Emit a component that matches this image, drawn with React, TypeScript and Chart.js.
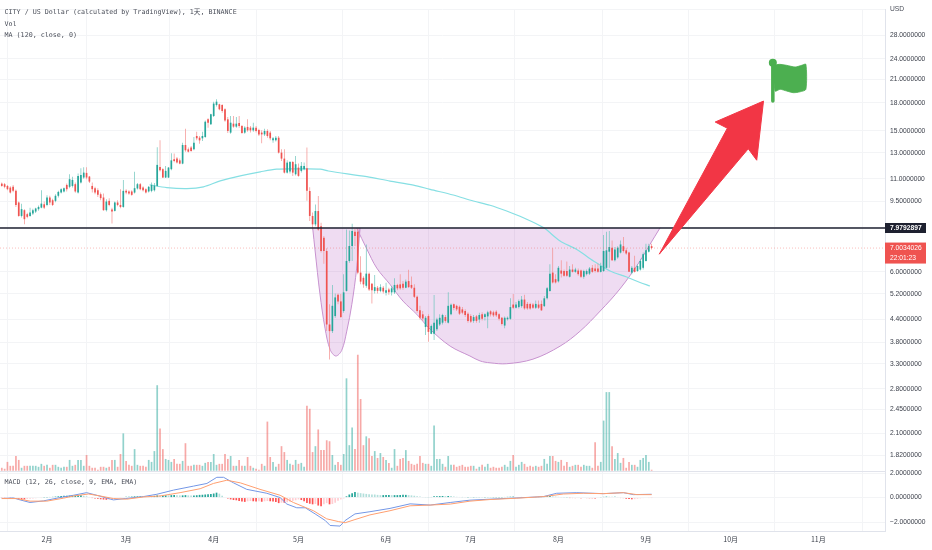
import React, { useEffect, useRef } from "react";
import { Chart, registerables } from "chart.js";

Chart.register(...registerables);

const monthTicks = [16, 44, 75, 105, 136, 166, 197, 228, 258, 289];
const monthLabels = ["2月", "3月", "4月", "5月", "6月", "7月", "8月", "9月", "10月", "11月"];
const priceTicks = [33, 28, 24, 21, 18, 15, 13, 11, 9.5, 8, 6, 5.2, 4.4, 3.8, 3.3, 2.8, 2.45, 2.1, 1.82];
const hiddenPriceLabels = [33, 8];
const macdTicks = [2, 0, -2];

const opens = [
  10.65,10.61,10.49,10.38,10.43,10.16,9.42,8.63,8.96,8.73,
  8.63,8.77,8.88,9.02,9.11,9.31,9.27,9.73,9.56,9.52,
  9.84,10.05,10.12,10.56,10.43,10.49,10.61,10.05,10.72,11.08,
  11.42,11.15,10.49,10.34,10.2,9.94,9.73,8.96,9.52,9.0,
  8.92,9.42,9.27,9.15,10.16,10.12,10.12,10.05,10.32,10.61,
  10.38,10.27,10.12,10.16,10.2,10.49,11.87,11.7,11.08,11.08,
  11.7,12.47,12.55,12.39,12.13,13.69,13.31,13.46,13.31,14.52,
  14.36,14.3,14.42,16.18,15.66,16.53,17.76,17.84,17.76,17.27,
  16.18,14.84,15.73,15.43,15.8,15.5,14.84,15.4,15.33,15.06,
  15.33,15.1,14.84,14.67,15.0,14.84,14.11,14.11,14.36,13.03,
  12.53,11.44,11.52,12.26,11.32,11.82,11.57,11.7,11.77,10.15,
  8.63,8.17,8.91,8.07,7.49,6.87,4.26,4.08,4.5,5.17,
  4.95,4.65,5.3,6.44,7.1,7.79,7.79,5.97,5.77,5.48,
  5.93,5.55,5.3,5.41,5.3,5.41,5.24,5.35,5.25,5.25,
  5.51,5.53,5.55,5.41,5.65,5.51,5.41,5.1,4.67,4.55,
  4.19,4.5,4.01,4.01,4.13,4.26,4.31,4.47,4.31,4.55,
  4.86,4.81,4.78,4.7,4.65,4.57,4.5,4.36,4.49,4.4,
  4.55,4.47,4.49,4.64,4.61,4.63,4.55,4.45,4.23,4.41,
  4.42,4.85,4.75,4.77,4.8,5.01,4.87,4.87,4.85,4.75,
  4.85,4.87,4.8,5.05,5.3,5.97,5.72,5.64,6.05,6.03,
  6.03,5.81,6.09,6.0,6.05,6.05,5.81,5.91,5.93,6.16,
  6.13,6.13,6.0,6.03,6.16,6.84,7.02,6.47,6.59,6.8,
  7.09,6.9,6.8,5.97,6.16,6.03,6.09,6.16,6.44,6.84,
  7.09,
];
const highs = [
  10.72,10.7,10.56,10.47,10.56,10.25,9.48,9.35,9.02,8.81,
  9.11,9.04,9.11,9.23,10.2,9.48,9.88,9.84,9.65,9.94,
  10.16,10.34,10.38,10.65,11.32,11.13,10.72,11.37,11.77,11.85,
  11.85,11.2,10.72,10.43,10.34,10.05,9.99,9.62,9.69,9.11,
  9.48,9.56,10.27,10.91,10.27,10.2,10.2,11.5,10.7,10.7,
  10.47,10.34,10.49,10.72,10.7,13.5,14.11,11.77,11.95,11.87,
  12.97,12.95,12.66,12.55,13.9,15.23,13.46,13.6,14.42,14.93,
  14.52,14.93,16.07,16.29,16.78,18.15,18.43,17.92,17.84,17.38,
  16.43,16.53,16.53,16.43,16.53,15.6,15.46,16.18,15.5,15.83,
  15.5,15.23,15.06,15.23,15.16,15.0,14.42,14.52,14.52,13.31,
  13.31,12.39,12.34,12.34,12.75,12.13,12.26,12.21,13.46,10.4,
  8.82,9.3,9.82,8.25,7.57,7.0,4.86,5.51,5.21,5.21,
  5.19,5.91,7.9,7.85,8.2,7.95,7.95,6.64,5.83,7.17,
  5.97,5.58,5.88,5.47,5.53,5.47,5.59,5.41,5.47,5.75,
  5.55,5.91,5.65,5.71,6.08,5.82,5.53,5.14,4.81,4.65,
  4.5,4.55,4.26,5.16,4.45,4.55,4.57,4.53,5.25,4.88,
  4.88,4.84,4.82,4.77,4.7,4.61,4.55,4.53,4.53,4.6,
  4.61,4.58,4.66,4.67,4.66,4.67,4.58,4.47,4.49,4.49,
  5.05,5.19,4.93,5.01,5.13,5.17,4.93,4.91,4.9,4.98,
  4.98,4.98,5.13,5.44,6.3,6.99,5.91,6.23,6.47,6.09,
  6.42,6.23,6.3,6.16,6.13,6.09,6.08,6.09,6.19,6.27,
  6.3,6.33,6.37,7.62,7.79,7.82,7.36,7.05,7.09,7.36,
  7.52,7.02,6.84,6.23,6.66,6.3,6.53,6.8,7.2,7.2,
  7.2,
];
const lows = [
  10.43,10.34,10.2,9.99,10.07,9.15,8.59,8.54,8.18,8.5,
  8.58,8.69,8.8,8.92,9.07,9.03,9.19,9.27,9.21,9.44,
  9.73,9.99,10.05,10.12,10.34,10.38,10.03,9.99,10.65,10.99,
  10.96,10.7,10.05,9.94,9.77,9.56,8.92,8.88,9.19,8.21,
  8.88,9.19,9.07,9.11,9.94,9.9,9.84,9.99,10.25,10.2,
  10.12,9.99,10.05,10.07,10.12,10.43,11.52,11.04,11.04,11.04,
  11.62,12.24,12.13,12.08,12.08,13.11,13.03,13.11,13.23,14.11,
  13.81,14.05,14.36,15.33,15.6,16.43,17.59,17.16,16.9,15.93,
  14.8,14.74,15.33,15.33,15.33,14.74,14.74,14.93,14.84,14.93,
  14.84,14.52,13.84,14.52,14.36,14.11,13.9,14.0,12.95,12.34,
  11.37,11.37,11.37,11.2,11.23,11.13,11.44,11.62,9.52,8.35,
  7.9,8.07,7.84,6.8,6.32,4.08,3.39,4.03,4.45,4.86,
  4.45,4.6,5.28,6.36,6.44,7.1,5.91,5.53,5.41,5.41,
  5.3,4.88,5.21,5.21,5.25,5.21,5.14,5.17,5.14,5.19,
  5.32,5.34,5.34,5.39,5.41,5.37,5.06,4.6,4.4,4.36,
  3.98,3.81,4.0,3.85,4.08,4.22,4.26,4.31,4.29,4.52,
  4.67,4.65,4.53,4.55,4.47,4.31,4.3,4.31,4.31,4.31,
  4.37,4.37,4.16,4.49,4.47,4.47,4.37,4.23,4.16,4.37,
  4.39,4.7,4.73,4.73,4.75,4.69,4.69,4.69,4.71,4.71,
  4.71,4.66,4.77,5.01,5.27,5.56,5.56,5.6,5.78,5.81,
  5.81,5.78,5.97,5.96,5.85,5.76,5.74,5.86,5.88,5.96,
  5.97,5.96,5.97,6.0,6.13,6.16,6.44,6.42,6.53,6.76,
  6.8,6.71,6.0,5.91,5.97,6.0,6.05,6.09,6.42,6.8,
  6.94,
];
const closes = [
  10.49,10.43,10.27,10.05,10.16,9.27,8.63,9.02,8.45,8.58,
  8.82,8.96,9.06,9.15,9.35,9.11,9.73,9.42,9.27,9.84,
  10.09,10.27,10.34,10.27,10.96,10.91,10.12,11.2,11.27,11.44,
  11.08,10.79,10.27,10.05,9.9,9.69,8.96,9.48,9.27,8.88,
  9.42,9.27,9.15,10.16,10.05,9.99,9.9,10.34,10.61,10.27,
  10.2,10.05,10.43,10.56,10.52,12.03,11.62,11.08,11.57,11.82,
  12.39,12.34,12.21,12.13,13.69,13.23,13.11,13.17,13.9,14.3,
  14.11,14.52,15.93,15.83,16.71,17.92,18.15,17.27,17.08,16.07,
  15.0,15.83,15.43,15.73,15.5,14.8,15.33,15.06,15.06,15.33,
  15.0,14.67,14.67,15.0,14.52,14.3,14.3,14.36,13.03,12.53,
  11.44,12.21,12.26,11.44,12.08,11.2,11.95,11.95,10.16,8.63,
  8.17,8.91,7.9,6.87,6.87,4.26,4.08,4.81,5.08,4.95,
  4.47,5.25,6.44,7.1,7.82,7.57,5.97,5.63,5.53,5.93,
  5.35,5.32,5.43,5.3,5.43,5.28,5.32,5.25,5.39,5.51,
  5.39,5.39,5.41,5.63,5.43,5.41,5.1,4.65,4.45,4.43,
  4.45,4.06,4.22,4.31,4.4,4.45,4.53,4.36,4.81,4.84,
  4.74,4.7,4.57,4.6,4.53,4.36,4.34,4.47,4.36,4.53,
  4.42,4.55,4.61,4.55,4.52,4.52,4.42,4.27,4.45,4.45,
  4.77,4.75,4.85,4.96,5.01,4.73,4.73,4.73,4.75,4.87,
  4.75,4.67,5.05,5.39,5.93,5.6,5.6,6.16,5.93,5.85,
  5.85,6.09,6.0,6.09,5.91,5.81,6.03,6.03,6.13,6.0,
  6.03,6.0,6.23,6.87,6.9,7.05,6.47,6.94,7.02,7.17,
  6.87,6.76,6.0,6.16,6.0,6.23,6.44,6.73,6.9,7.09,
  7.0034,
];
const volumes = [
  3,2,9,5,5,15,11,3,5,5,
  5,5,5,4,7,5,6,3,6,6,
  4,3,4,4,11,5,6,11,11,5,
  16,5,3,3,1,4,4,3,4,11,
  11,4,17,38,10,6,5,22,6,5,
  5,4,11,9,20,87,43,22,12,11,
  9,12,7,7,10,28,5,5,6,6,
  6,5,8,9,9,17,6,7,7,17,
  12,15,5,5,11,5,5,14,5,3,
  2,1,7,5,50,14,9,4,7,25,
  19,11,7,6,11,7,8,4,66,63,
  19,25,42,21,21,31,30,16,6,9,
  6,17,94,26,44,22,118,73,26,35,
  33,15,20,13,18,14,11,8,3,22,
  5,12,13,21,10,7,6,7,15,8,
  7,7,5,46,12,12,7,4,15,6,
  6,4,5,6,4,4,5,5,2,4,
  6,4,7,3,4,3,3,4,6,4,
  10,16,4,6,9,7,4,5,4,5,
  4,5,12,7,15,15,10,9,11,5,
  9,4,5,6,6,4,6,5,5,3,
  29,5,9,51,80,80,25,12,18,8,
  13,3,9,6,6,4,11,13,16,9,
  1,
];
const macdHist = [
  -0.02,-0.02,-0.01,-0.02,-0.03,-0.05,-0.1,-0.14,-0.15,-0.12,
  -0.1,-0.08,-0.06,-0.04,-0.02,0.02,0.03,0.05,0.06,0.08,
  0.1,0.12,0.14,0.15,0.16,0.17,0.18,0.18,0.18,0.14,
  0.1,0.05,-0.02,-0.07,-0.1,-0.14,-0.16,-0.18,-0.16,-0.14,
  -0.1,-0.05,-0.02,0.04,0.06,0.07,0.08,0.1,0.1,0.1,
  0.09,0.08,0.07,0.1,0.14,0.18,0.16,0.18,0.19,0.18,
  0.2,0.2,0.19,0.18,0.18,0.2,0.18,0.17,0.17,0.19,
  0.22,0.23,0.25,0.28,0.3,0.33,0.4,0.32,0.15,0.05,
  -0.08,-0.15,-0.2,-0.22,-0.28,-0.32,-0.35,-0.3,-0.28,-0.3,
  -0.32,-0.3,-0.34,-0.3,-0.28,-0.3,-0.32,-0.36,-0.45,-0.42,
  -0.42,-0.38,-0.33,-0.27,-0.22,-0.15,-0.2,-0.3,-0.45,-0.5,
  -0.55,-0.52,-0.65,-0.7,-0.55,-0.45,-0.55,-0.52,-0.42,-0.25,
  -0.15,-0.08,0.1,0.25,0.35,0.45,0.4,0.36,0.33,0.3,
  0.27,0.26,0.25,0.22,0.2,0.2,0.2,0.21,0.2,0.2,
  0.2,0.21,0.22,0.22,0.2,0.18,0.15,0.1,0.08,0.03,
  0.02,0.03,0.05,0.1,0.1,0.12,0.13,0.12,0.13,0.12,
  0.08,0.06,0.05,0.05,0.03,0.03,0.02,0.02,0.03,0.03,
  0.02,0.02,0.03,0.01,0.02,0.02,0.02,0.03,0.05,0.06,
  0.07,0.08,0.05,0.04,0.05,0.04,0.03,0.03,0.04,0.05,
  0.06,0.07,0.08,0.1,0.12,0.1,0.08,0.06,0.03,0.02,
  0.01,-0.02,-0.03,-0.05,-0.03,-0.06,-0.04,-0.05,-0.06,-0.06,
  -0.07,-0.04,0.03,0.06,0.08,0.07,0.06,0.07,0.05,-0.03,
  -0.05,-0.1,-0.12,-0.14,-0.13,-0.1,-0.07,-0.05,-0.03,-0.02,
  -0.01,
];

const maDays = [52.3,58.4,65.5,71.4,77.3,84.4,91.5,97.3,105.6,112.7,115.6,129.2,137.4,145.7,151.6,159.8,166.9,172.8,178.7,184.6,191.7,197.6,203.5,209.4,215.3,221.2,225.9,229.4];
const maValues = [10.57,10.38,10.31,10.43,10.84,11.2,11.5,11.7,11.72,11.7,11.56,11.14,10.83,10.55,10.26,9.89,9.51,9.25,8.91,8.53,8.0,7.33,6.94,6.44,6.03,5.8,5.6,5.47];
const macdDays = [0,4.1,6.5,10,14.7,20.6,25.4,30,33.6,39.5,43.7,50.1,54.9,60.8,67.8,72.6,76.1,78.5,82,86.7,93.8,98.5,100.9,104.4,107.4,110.9,114.5,116.2,119.7,121.5,125,130.3,137.4,144.5,151.6,158.7,165.7,172.8,182.3,191.7,196.4,203.5,212.9,220,223.6,230];
const macdValues = [-0.08,-0.03,-0.19,-0.4,-0.27,0,0.19,0.4,0.19,-0.19,-0.08,0.08,0.27,0.61,0.93,1.15,1.65,1.65,1.2,0.67,0.35,0,-0.53,-0.83,-0.83,-1.33,-1.87,-2.27,-2.32,-1.87,-1.33,-1.15,-0.88,-0.51,-0.61,-0.4,-0.21,-0.13,-0.03,0.08,0.35,0.4,0.32,0.4,0.24,0.27];
const signalDays = [0,5.3,10,15.9,21.8,25.4,30.7,34.8,39.5,44.2,50.1,56,63.1,70.2,74.9,79.6,84.4,91.4,98.5,103.2,110.3,115,119.1,121.5,125,130.3,137.4,144.5,151.6,158.7,165.7,172.8,182.3,191.7,198.8,205.9,212.9,220,224.8,230];
const signalValues = [-0.08,-0.08,-0.29,-0.29,-0.05,0.13,0.29,0.13,-0.08,-0.13,0.05,0.13,0.4,0.72,1.15,1.41,1.2,0.67,0.19,-0.4,-1.07,-1.73,-1.95,-2.05,-1.79,-1.41,-1.07,-0.67,-0.61,-0.53,-0.29,-0.16,-0.05,0.08,0.29,0.35,0.32,0.4,0.24,0.24];

const smallCupDays = [110.05,110.9,112.6,114.4,116.2,118.2,120.3,122.1,123.9,125.6,126.8];
const smallCupPrices = [7.96,6.87,5.2,4.16,3.62,3.47,3.6,4.08,4.86,6.15,7.98];
const bigCupDays = [125.6,129.2,132.7,137.4,142,146.9,151.6,158.7,165.7,169.3,172.8,178.7,188,197.6,204.7,211.8,218.8,225.9,229.4,233];
const bigCupPrices = [7.98,6.96,6.15,5.53,4.96,4.55,4.13,3.7,3.47,3.36,3.32,3.3,3.4,3.7,4.08,4.65,5.37,6.44,7.17,7.99];

const arrowDays = [269.6,252.5,256.8,232.7,264.2,267.2,269.6];
const arrowPrices = [18.22,15.9,15.27,6.73,13.36,12.4,18.22];
const flagPoleDays = [272.9,272.9];
const flagPolePrices = [23.38,18.22];
const flagDays = [273.1,275.2,277.8,280.8,283.1,284.6,284.6,282.6,280.2,277.8,275.5,273.7,273.1];
const flagPrices = [22.99,23.14,22.99,22.74,22.99,23.14,19.67,19.36,19.24,19.45,19.67,19.45,22.99];

const resistance = 7.9792897;
const lastPrice = 7.0034026;
const countdown = "22:01:23";
const titleLines = ["CITY / US Dollar (calculated by TradingView), 1天, BINANCE", "Vol", "MA (120, close, 0)"];
const macdTitle = "MACD (12, 26, close, 9, EMA, EMA)";

const xMin = -0.637;
const xMax = 312.6;
const UP = "#26a69a";
const DOWN = "#ef5350";

const pts = (xs: number[], ys: number[]) => xs.map((x, i) => ({ x, y: ys[i] }));
const isUp = (i: number) => closes[i] >= opens[i];

const textPlugin = {
  id: "paneText",
  afterDraw(chart: any) {
    const { ctx } = chart;
    const price = chart.scales.price;
    const macd = chart.scales.macd;
    const right = chart.chartArea.right;
    ctx.save();
    ctx.strokeStyle = "#e0e3eb";
    ctx.lineWidth = 1;
    ctx.beginPath();
    ctx.moveTo(0, macd.top + 0.5);
    ctx.lineTo(right, macd.top + 0.5);
    ctx.stroke();
    ctx.textBaseline = "middle";
    ctx.textAlign = "left";
    ctx.fillStyle = "#4a4e59";
    ctx.font = "6.7px 'DejaVu Sans Mono','Noto Sans CJK SC',monospace";
    titleLines.forEach((t, i) => ctx.fillText(t, 4.5, 12.5 + i * 11.3));
    ctx.fillText(macdTitle, 4.5, 482.7);
    ctx.font = "6.7px 'Liberation Sans',sans-serif";
    ctx.fillStyle = "#4a4e59";
    ctx.fillText("USD", 890, 9);
    const y1 = price.getPixelForValue(resistance);
    ctx.fillStyle = "#1e2130";
    ctx.fillRect(right, y1 - 5, 41, 10);
    ctx.fillStyle = "#ffffff";
    ctx.font = "bold 6.7px 'Liberation Sans',sans-serif";
    ctx.fillText(resistance.toFixed(7), right + 5, y1 + 0.3);
    const y2 = price.getPixelForValue(lastPrice);
    ctx.fillStyle = DOWN;
    ctx.fillRect(right, y2 - 5.5, 41, 21);
    ctx.fillStyle = "#ffffff";
    ctx.font = "6.7px 'Liberation Sans',sans-serif";
    ctx.fillText(lastPrice.toFixed(7), right + 5, y2 - 0.2);
    ctx.fillText(countdown, right + 5, y2 + 9.8);
    ctx.restore();
  },
};

export default function App() {
  const ref = useRef<HTMLCanvasElement | null>(null);
  useEffect(() => {
    if (!ref.current) return;
    const days = closes.map((_, i) => i);
    const lineBase = { type: "line", xAxisID: "x", pointRadius: 0, fill: false, tension: 0 };
    const barBase = { type: "bar", xAxisID: "x", grouped: false, borderWidth: 0, inflateAmount: 0 };
    const chart = new Chart(ref.current, {
      type: "bar",
      data: {
        datasets: [
          { ...lineBase, label: "cup-left", yAxisID: "price", order: 20, data: pts(smallCupDays, smallCupPrices), borderColor: "#c792cf", borderWidth: 1, tension: 0.35, backgroundColor: "rgba(156,39,176,0.16)", fill: { value: resistance } },
          { ...lineBase, label: "cup-right", yAxisID: "price", order: 19, data: pts(bigCupDays, bigCupPrices), borderColor: "#c792cf", borderWidth: 1, tension: 0.35, backgroundColor: "rgba(156,39,176,0.16)", fill: { value: resistance } },
          { ...barBase, label: "Vol", yAxisID: "vol", order: 18, barThickness: 1.7, data: days.map((i) => ({ x: i, y: volumes[i] })), backgroundColor: days.map((i) => (isUp(i) ? "rgba(38,166,154,0.5)" : "rgba(239,83,80,0.5)")) },
          { ...lineBase, label: "MA", yAxisID: "price", order: 8, data: pts(maDays, maValues), borderColor: "#86dfe3", borderWidth: 1.2, tension: 0.3 },
          { ...barBase, label: "wicks", yAxisID: "price", order: 7, barThickness: 0.7, data: days.map((i) => ({ x: i, y: [lows[i], highs[i]] })), backgroundColor: days.map((i) => (isUp(i) ? "#6cc4bb" : "#f48f8d")) },
          { ...barBase, label: "bodies", yAxisID: "price", order: 6, barThickness: 1.7, data: days.map((i) => ({ x: i, y: [Math.min(opens[i], closes[i]), Math.max(opens[i], closes[i])] })), backgroundColor: days.map((i) => (isUp(i) ? UP : DOWN)) },
          { ...lineBase, label: "last", yAxisID: "price", order: 5, data: pts([xMin, xMax], [lastPrice, lastPrice]), borderColor: "rgba(239,83,80,0.55)", borderWidth: 0.7, borderDash: [1, 2] },
          { ...lineBase, label: "level", yAxisID: "price", order: 4, data: pts([xMin, xMax], [resistance, resistance]), borderColor: "#1e2130", borderWidth: 1.5 },
          { ...barBase, label: "hist", yAxisID: "macd", order: 12, barThickness: 1.7, data: days.map((i) => ({ x: i, y: macdHist[i] })), backgroundColor: days.map((i) => {
            const v = macdHist[i];
            const p = i > 0 ? macdHist[i - 1] : v;
            if (v >= 0) return v >= p ? UP : "#b2dfdb";
            return v <= p ? "#ff5252" : "#ffcdd2";
          }) },
          { ...lineBase, label: "MACD", yAxisID: "macd", order: 11, data: pts(macdDays, macdValues), borderColor: "#7497e6", borderWidth: 1 },
          { ...lineBase, label: "Signal", yAxisID: "macd", order: 10, data: pts(signalDays, signalValues), borderColor: "#ff9f70", borderWidth: 1 },
          { ...lineBase, label: "arrow", yAxisID: "price", order: 2, data: pts(arrowDays, arrowPrices), borderColor: "#f23645", borderWidth: 1, borderJoinStyle: "round", backgroundColor: "#f23645", fill: "shape" },
          { ...lineBase, label: "flag-pole", yAxisID: "price", order: 1, data: pts(flagPoleDays, flagPolePrices), borderColor: "#4caf50", borderWidth: 3.5, borderCapStyle: "round" },
          { ...lineBase, label: "flag-head", yAxisID: "price", order: 1, showLine: false, data: pts(flagPoleDays.slice(0, 1), flagPolePrices.slice(0, 1)), pointRadius: 4, pointBackgroundColor: "#4caf50", pointBorderWidth: 0 },
          { ...lineBase, label: "flag", yAxisID: "price", order: 1, data: pts(flagDays, flagPrices), borderColor: "#4caf50", borderWidth: 0.8, tension: 0.25, backgroundColor: "#4caf50", fill: "shape" },
        ] as any,
      },
      options: {
        animation: false,
        responsive: false,
        devicePixelRatio: 1,
        layout: { padding: 0, autoPadding: false },
        events: [],
        plugins: { legend: { display: false }, tooltip: { enabled: false } },
        scales: {
          x: {
            type: "linear",
            position: "bottom",
            min: xMin,
            max: xMax,
            offset: false,
            afterBuildTicks: (s: any) => { s.ticks = monthTicks.map((value) => ({ value })); },
            afterFit: (s: any) => { s.height = 19; },
            grid: { color: "#f3f4f6", drawTicks: false },
            border: { color: "#e0e3eb" },
            ticks: {
              autoSkip: false,
              maxRotation: 0,
              padding: 4,
              color: "#3c404b",
              font: { family: "'Noto Sans CJK SC','Liberation Sans',sans-serif", size: 7 },
              callback: (v: any) => monthLabels[monthTicks.indexOf(v)] ?? "",
            },
          },
          price: {
            type: "logarithmic",
            position: "right",
            stack: "panes",
            stackWeight: 470,
            weight: 1,
            min: 1.642,
            max: 33.16,
            afterBuildTicks: (s: any) => { s.ticks = priceTicks.map((value) => ({ value })); },
            afterFit: (s: any) => { s.width = 47; },
            grid: { color: "#f3f4f6", drawTicks: false },
            border: { color: "#e0e3eb" },
            ticks: {
              autoSkip: false,
              padding: 5,
              color: "#3c404b",
              font: { family: "'Liberation Sans',sans-serif", size: 6.7 },
              callback: (v: any) => (hiddenPriceLabels.includes(v) ? "" : Number(v).toFixed(7)),
            },
          },
          macd: {
            type: "linear",
            position: "right",
            stack: "panes",
            stackWeight: 61,
            weight: 2,
            min: -2.72,
            max: 2.16,
            afterBuildTicks: (s: any) => { s.ticks = macdTicks.map((value) => ({ value })); },
            afterFit: (s: any) => { s.width = 47; },
            grid: { color: "#f3f4f6", drawTicks: false },
            border: { color: "#e0e3eb" },
            ticks: {
              autoSkip: false,
              padding: 5,
              color: "#3c404b",
              font: { family: "'Liberation Sans',sans-serif", size: 6.7 },
              callback: (v: any) => (Number(v) < 0 ? "\u2212" + Math.abs(v).toFixed(7) : Number(v).toFixed(7)),
            },
          },
          vol: { type: "linear", position: "right", display: false, min: -61.3, max: 469.7 },
        },
      } as any,
      plugins: [textPlugin],
    } as any);
    return () => chart.destroy();
  }, []);
  return (
    <canvas
      ref={ref}
      width={932}
      height={550}
      style={{ position: "absolute", left: 0, top: 0, width: 932, height: 550, display: "block", filter: "blur(0.3px)" }}
    />
  );
}
